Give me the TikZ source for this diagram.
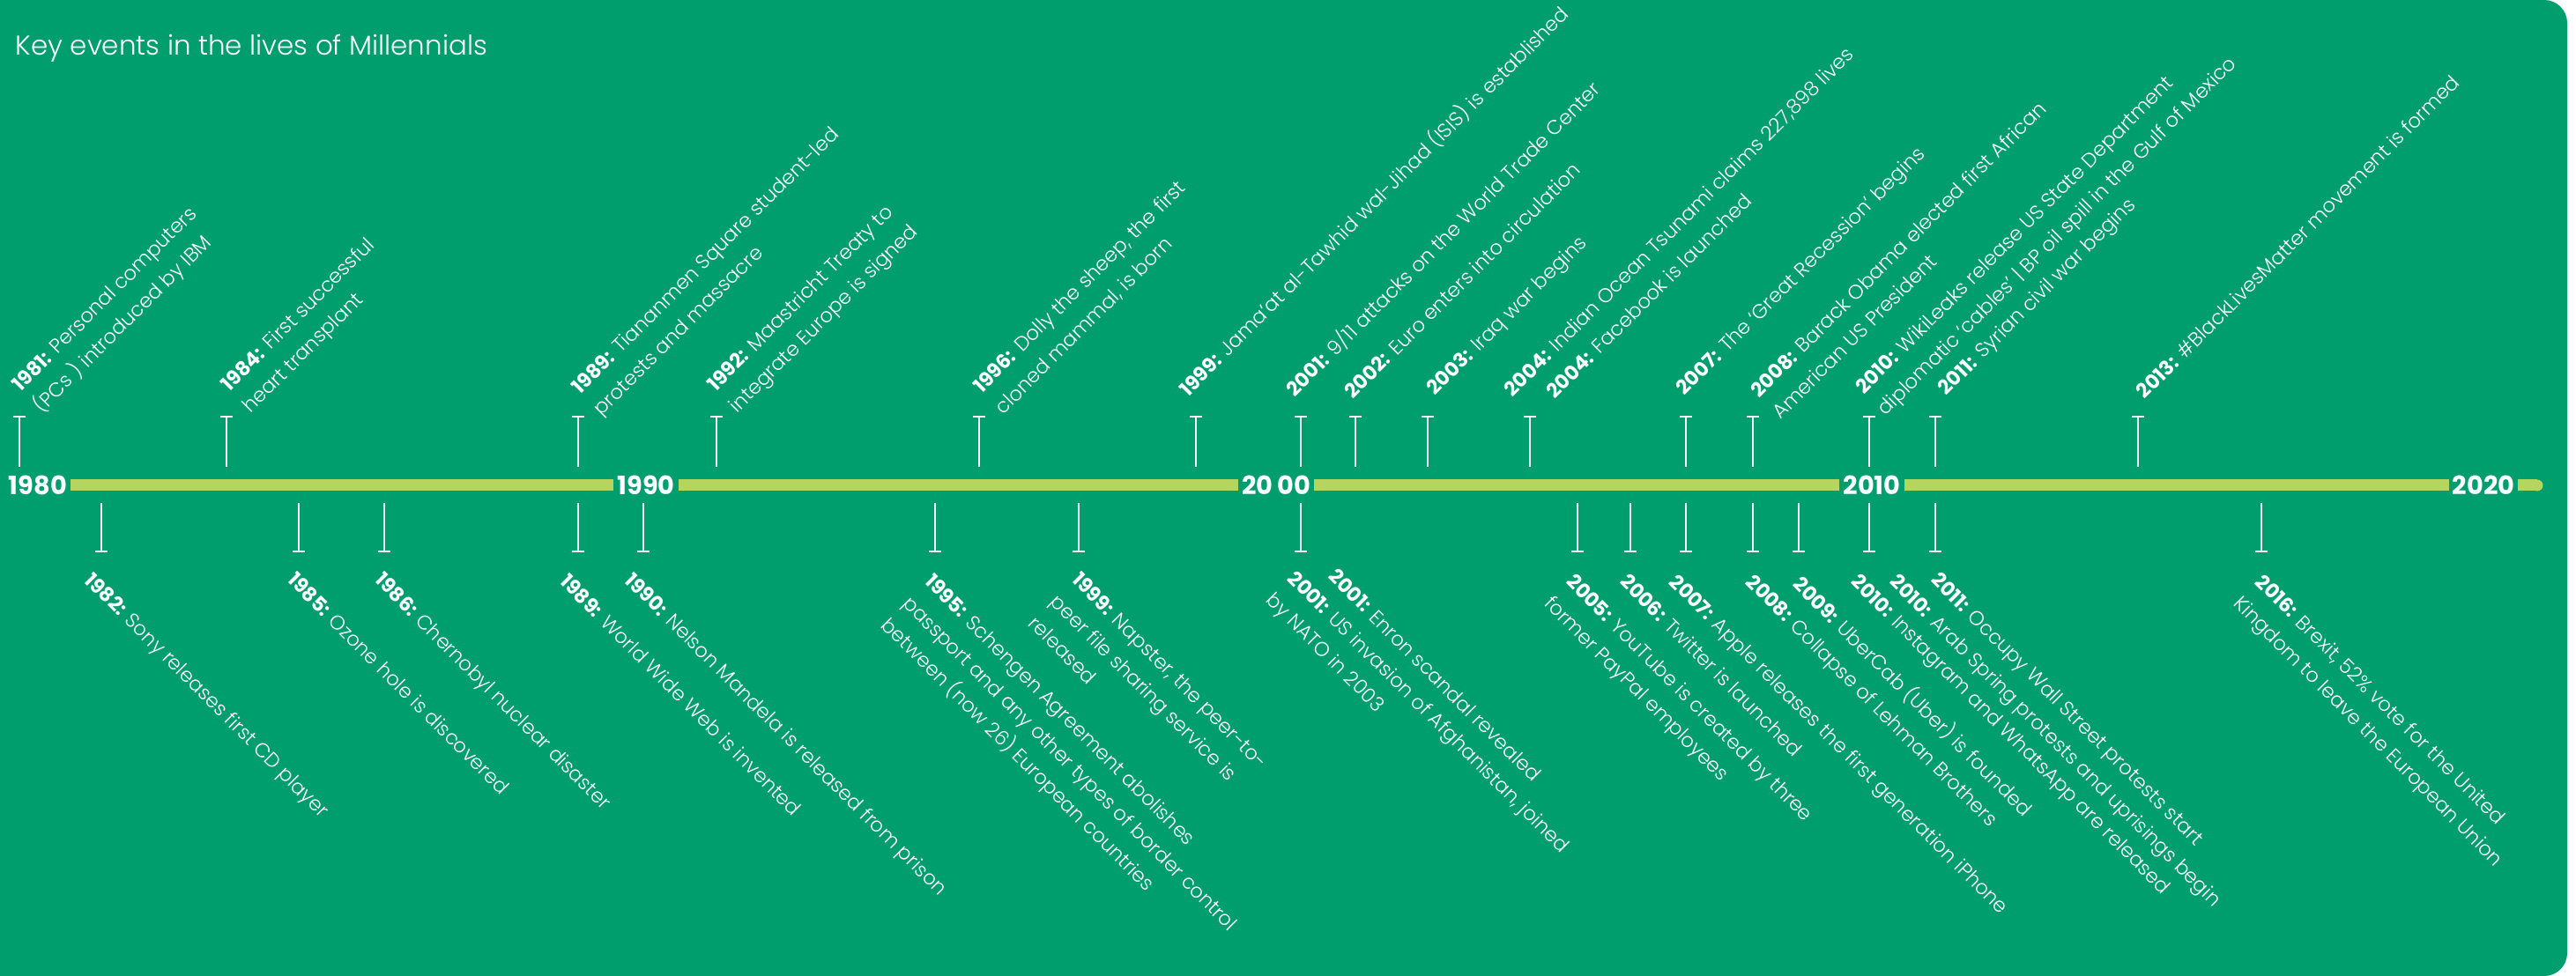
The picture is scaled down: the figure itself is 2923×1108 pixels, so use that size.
\documentclass[tikz,border=0pt]{standalone}
\usepackage{fontspec}
\setmainfont{Poppins}[UprightFont={* Light},BoldFont={* Bold}]
\usetikzlibrary{arrows.meta}
\definecolor{Leaf}{HTML}{009E6D}
\definecolor{Lime}{HTML}{B6D55F}
\newcommand{\evtfont}{\fontsize{6.42}{9.9}\selectfont}
\newcommand{\yr}[1]{\textbf{#1}}
\tikzset{
  bar/.style={line width=1.3mm,draw=Lime},
  yearlbl/.style={text=white,font=\fontsize{8.2}{9}\selectfont\bfseries,inner xsep=0.35mm,inner ysep=0pt},
  stem/.style={-{Bar[width=1.4mm]},line width=0.2mm,draw=white},
  evt/.style={text=white,font=\evtfont,align=left,inner sep=0pt},
  evtup/.style={evt,rotate=45,anchor=south west},
  evtdown/.style={evt,rotate=-45,anchor=north west},
  heading/.style={text=white,font=\fontsize{8.8}{10}\selectfont,inner sep=0pt,anchor=base west}
}

\begin{document}
\begin{tikzpicture}[x=0.1mm,y=-0.1mm]
  \useasboundingbox (0,0) rectangle (2923,1108);
  \fill[Leaf] (0,0) -- (1500,0) [rounded corners=2.6mm] -- (2913,0) -- (2913,1108) -- (1500,1108) [sharp corners] -- (0,1108) -- cycle;
  \node[heading] (title) at (17,63) {Key events in the lives of Millennials};

  % decades on the line
  \node[yearlbl] (y1980) at (43,551) {1980};
  \node[yearlbl] (y1990) at (733,551) {1990};
  \node[yearlbl] (y2000) at (1448,551) {20\,00};
  \node[yearlbl] (y2010) at (2124,551) {2010};
  \node[yearlbl] (y2020) at (2818,551) {2020};
  \coordinate (tlend) at (2879,551);
  \draw[bar] (y1980) -- (y1990); \draw[bar] (y1990) -- (y2000); \draw[bar] (y2000) -- (y2010);
  \draw[bar] (y2010) -- (y2020); \draw[bar] (y2020) -- (tlend);
  \fill[Lime] (tlend) circle (0.65mm);

  \foreach \x in {22,257,656,813,1111,1357,1476,1538,1620,1736,1913,1989,2121,2196,2426}
    \draw[stem] (\x,530) -- (\x,472);
  \foreach \x in {115,339,436,656,730,1061,1224,1476,1790,1850,1913,1989,2041,2121,2196,2566}
    \draw[stem] (\x,571) -- (\x,627);

  % above the line
  \node[evtup] (up81) at (52,475) {\yr{1981:} Personal computers\\(PCs ) introduced by IBM};
  \node[evtup] (up84) at (289,475) {\yr{1984:} First successful\\heart transplant};
  \node[evtup] (up89) at (687,478) {\yr{1989:} Tiananmen Square student-led\\protests and massacre};
  \node[evtup] (up92) at (841,475) {\yr{1992:} Maastricht Treaty to\\integrate Europe is signed};
  \node[evtup] (up96) at (1141,475) {\yr{1996:} Dolly the sheep, the first\\cloned mammal, is born};
  \node[evtup] (up99) at (1351,455) {\yr{1999:} Jama’at al-Tawhid wal-Jihad (ISIS) is established};
  \node[evtup] (up01) at (1472,455) {\yr{2001:} 9/11 attacks on the World Trade Center};
  \node[evtup] (up02) at (1536,455) {\yr{2002:} Euro enters into circulation};
  \node[evtup] (up03) at (1633,455) {\yr{2003:} Iraq war begins};
  \node[evtup] (up04a) at (1719,455) {\yr{2004:} Indian Ocean Tsunami claims 227,898 lives};
  \node[evtup] (up04b) at (1765,455) {\yr{2004:} Facebook is launched};
  \node[evtup] (up07) at (1916,455) {\yr{2007:} The ‘Great Recession’ begins};
  \node[evtup] (up08) at (2021,478) {\yr{2008:} Barack Obama elected first African\\American US President};
  \node[evtup] (up10) at (2144,478) {\yr{2010:} WikiLeaks release US State Department\\diplomatic ‘cables’ | BP oil spill in the Gulf of Mexico};
  \node[evtup] (up11) at (2213,455) {\yr{2011:} Syrian civil war begins};
  \node[evtup] (up13) at (2434,455) {\yr{2013:} \#BlackLivesMatter movement is formed};

  % below the line
  \node[evtdown] (dn82) at (107,647) {\yr{1982:} Sony releases first CD player};
  \node[evtdown] (dn85) at (337,647) {\yr{1985:} Ozone hole is discovered};
  \node[evtdown] (dn86) at (436,647) {\yr{1986:} Chernobyl nuclear disaster};
  \node[evtdown] (dn89) at (646,649) {\yr{1989:} World Wide Web is invented};
  \node[evtdown] (dn90) at (720,647) {\yr{1990:} Nelson Mandela is released from prison};
  \node[evtdown] (dn95) at (1060,649) {\yr{1995:} Schengen Agreement abolishes\\passport and any other types of border control\\between (now 26) European countries};
  \node[evtdown] (dn99) at (1227,647) {\yr{1999:} Napster, the peer-to-\\peer file sharing service is\\released};
  \node[evtdown] (dn01a) at (1518,643) {\yr{2001:} Enron scandal revealed};
  \node[evtdown] (dn01b) at (1472,645) {\yr{2001:} US invasion of Afghanistan, joined\\by NATO in 2003};
  \node[evtdown] (dn05) at (1788,649) {\yr{2005:} YouTube is created by three\\former PayPal employees};
  \node[evtdown] (dn06) at (1849,649) {\yr{2006:} Twitter is launched};
  \node[evtdown] (dn07) at (1905,649) {\yr{2007:} Apple releases the first generation iPhone};
  \node[evtdown] (dn08) at (1992,649) {\yr{2008:} Collapse of Lehman Brothers};
  \node[evtdown] (dn09) at (2048,649) {\yr{2009:} UberCab (Uber) is founded};
  \node[evtdown] (dn10a) at (2111,649) {\yr{2010:} Instagram and WhatsApp are released};
  \node[evtdown] (dn10b) at (2155,649) {\yr{2010:} Arab Spring protests and uprisings begin};
  \node[evtdown] (dn11) at (2202,647) {\yr{2011:} Occupy Wall Street protests start};
  \node[evtdown] (dn16) at (2570,649) {\yr{2016:} Brexit, 52\% vote for the United\\Kingdom to leave the European Union};
\end{tikzpicture}
\end{document}
